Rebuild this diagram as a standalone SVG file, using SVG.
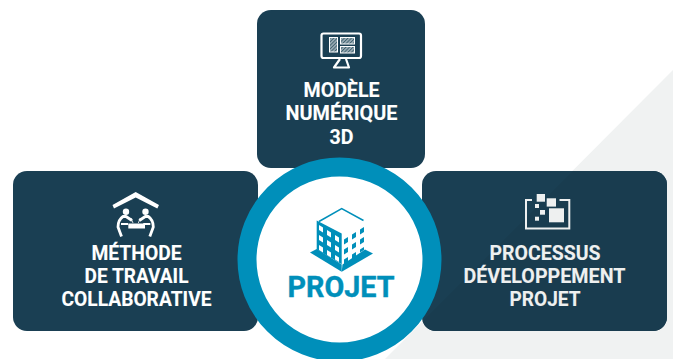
<svg xmlns="http://www.w3.org/2000/svg" width="673" height="359" viewBox="0 0 673 359">
<style>
.card{fill:#1a3f53}
.t{font-family:"Roboto","Liberation Sans",sans-serif;font-weight:700;font-size:20.5px;fill:#fff;text-anchor:middle;stroke:#fff;stroke-width:.1}
.o{fill:#eef0f0;stroke:#eef0f0}
.w{fill:none;stroke:#fff;stroke-width:2.2;stroke-linejoin:round}
.p{fill:none;stroke:#fff;stroke-width:2.800;stroke-linejoin:round}
.f{fill:#fff}
.b{fill:#008fba}
.wf{fill:#eef0f0}
.h{fill:url(#hatch);stroke:#fff;stroke-width:1}
</style>
<defs>
<pattern id="hatch" width="2.500" height="2.500" patternUnits="userSpaceOnUse" patternTransform="rotate(45)">
<rect width="2.500" height="2.500" fill="#9fb0b9"/>
<rect width="1" height="2.500" fill="#41626f"/>
</pattern>
<clipPath id="procClip"><rect x="422" y="171" width="245" height="160" rx="14"/></clipPath>
</defs>
<rect width="673" height="359" fill="#fff"/>
<polygon points="673,70 673,359 385,359" fill="#f0f2f2"/>
<g id="node-modele">
<rect class="card" x="257" y="10" width="168" height="158" rx="14"/>
<rect class="w" x="321.500" y="33.500" width="39.500" height="24.500" rx="2"/>
<path class="w" d="M340 59 L334 67.500 H349 L346 59"/>
<rect class="h" x="329.500" y="37.500" width="8" height="14.500"/>
<rect class="h" x="340.500" y="37.500" width="14" height="6.500"/>
<rect class="h" x="340.500" y="46.500" width="14" height="6.500"/>
<text class="t" x="341.500" y="97" textLength="76" lengthAdjust="spacingAndGlyphs">MODÈLE</text>
<text class="t" x="341.500" y="120" textLength="112" lengthAdjust="spacingAndGlyphs">NUMÉRIQUE</text>
<text class="t" x="341.500" y="144" textLength="24" lengthAdjust="spacingAndGlyphs">3D</text>
</g>
<g id="node-methode">
<rect class="card" x="13" y="171" width="245" height="160" rx="14"/>
<polygon class="f" points="135.700,192 159,205 157.300,208.500 135.700,197.500 114,208.500 112.500,205"/>
<circle class="f" cx="126" cy="211.700" r="3.200"/><circle class="f" cx="145.500" cy="211.700" r="3.200"/>
<path class="p" d="M121.500 236.500 L118 227 Q118 220 123 216.500 L126 216.500 L132 220.500"/>
<path class="p" d="M149.800 236.500 L153.300 227 Q153.300 220 148.300 216.500 L145.300 216.500 L139.300 220.500"/>
<path class="w" d="M121 224 H128 M150.300 224 H143.300"/>
<path d="M131 218 L133 223 M140.300 218 L138.300 223" fill="none" stroke="#fff" stroke-width=".8"/>
<rect class="f" x="128.300" y="223.500" width="16.700" height="5"/>
<text class="t" x="136.500" y="260" textLength="90" lengthAdjust="spacingAndGlyphs">MÉTHODE</text>
<text class="t" x="136.500" y="283" textLength="104" lengthAdjust="spacingAndGlyphs">DE TRAVAIL</text>
<text class="t" x="136.500" y="306" textLength="150" lengthAdjust="spacingAndGlyphs">COLLABORATIVE</text>
</g>
<g id="node-processus">
<rect class="card" x="422" y="171" width="245" height="160" rx="14"/>
<polygon points="573,171 667,171 667,331 422,331 422,322" fill="#193c4f" clip-path="url(#procClip)"/>
<path d="M532 200 H526 V228.500 H569.300 V200 H559.500" fill="none" stroke="#eef0f0" stroke-width="2"/>
<rect class="wf" x="536.700" y="194" width="8.300" height="7.700"/>
<rect class="wf" x="546.700" y="198.300" width="9.300" height="8.300"/>
<rect class="wf" x="535" y="204" width="4" height="4"/>
<rect class="wf" x="540" y="210" width="5" height="4.700"/>
<rect class="wf" x="535" y="216.700" width="4" height="4"/>
<rect class="wf" x="549" y="208.300" width="15" height="14"/>
<text class="t o" x="545" y="260" textLength="111" lengthAdjust="spacingAndGlyphs">PROCESSUS</text>
<text class="t o" x="544.500" y="283" textLength="162" lengthAdjust="spacingAndGlyphs">DÉVELOPPEMENT</text>
<text class="t o" x="545" y="306" textLength="71" lengthAdjust="spacingAndGlyphs">PROJET</text>
</g>
<g id="node-projet">
<circle cx="339.500" cy="259.500" r="92.500" fill="#fff" stroke="#008fba" stroke-width="19"/>
<polygon class="b" points="310,252.500 316.700,249 341.700,264.500 341.700,271.700"/>
<polygon class="b" points="341.700,271.700 373,253.500 365,249.500 342.500,264.500"/>
<polygon class="b" points="316.700,220.500 341.700,233.500 341.700,264.300 316.700,249.500"/>
<g class="f">
<polygon points="319,225 323,227.500 323,232.500 319,230"/><polygon points="327,230 331,232.500 331,237.500 327,235"/><polygon points="335,235 339,237.500 339,242.500 335,240"/>
<polygon points="319,235 323,237.500 323,242.500 319,240"/><polygon points="327,240 331,242.500 331,247.500 327,245"/><polygon points="335,245 339,247.500 339,252.500 335,250"/>
<polygon points="319,245 323,247.500 323,252.500 319,250"/><polygon points="327,250 331,252.500 331,257.500 327,255"/><polygon points="335,255 339,257.500 339,262 335,259.500"/>
</g>
<polygon points="344,239.500 348,237 348,242 344,244.500" class="b"/><polygon points="352,234.500 356,232 356,237 352,239.500" class="b"/><polygon points="360,229.500 364,227 364,232 360,234.500" class="b"/>
<polygon points="344,249.500 348,247 348,252 344,254.500" class="b"/><polygon points="352,244.500 356,242 356,247 352,249.500" class="b"/><polygon points="360,239.500 364,237 364,242 360,244.500" class="b"/>
<polygon points="344,259.500 348,257 348,262 344,264.500" class="b"/><polygon points="352,254.500 356,252 356,257 352,259.500" class="b"/><polygon points="360,249.500 364,247 364,250 360,252.500" class="b"/>
<path d="M319 221.500 L341.700 208.500 L363.500 220.500" fill="none" stroke="#008fba" stroke-width="1.500"/>
<text x="341" y="297" font-family="Roboto,'Liberation Sans',sans-serif" font-weight="700" font-size="30" fill="#008fba" stroke="#008fba" stroke-width=".4" text-anchor="middle" textLength="107" lengthAdjust="spacingAndGlyphs">PROJET</text>
</g>
</svg>
